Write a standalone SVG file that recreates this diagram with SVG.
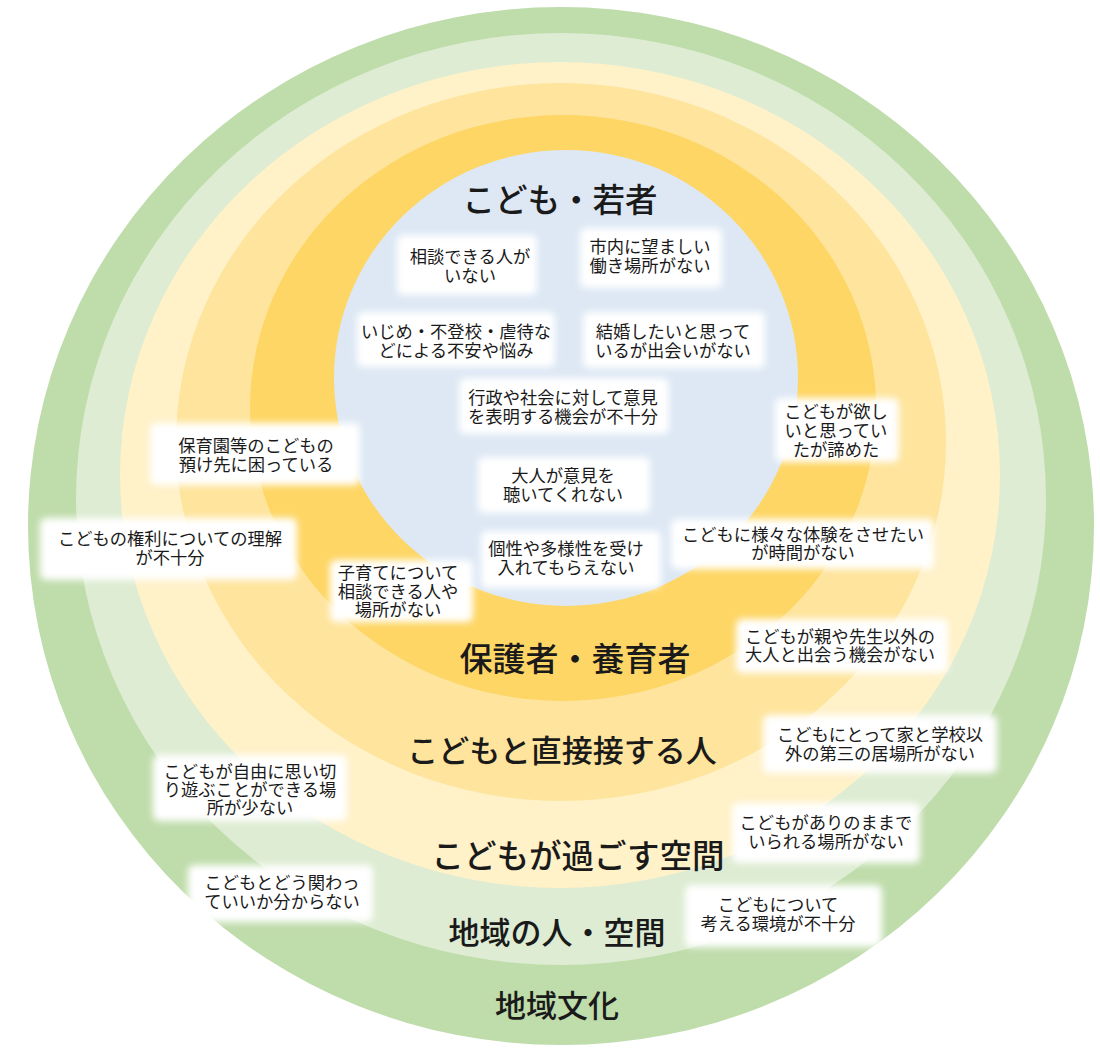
<svg xmlns="http://www.w3.org/2000/svg" width="1100" height="1048" viewBox="0 0 1100 1048">
<defs>
<filter id="soft" x="-20%" y="-30%" width="140%" height="160%"><feGaussianBlur stdDeviation="3.5"/></filter>
<style>
.t{font-family:"Liberation Sans","Noto Sans CJK JP",sans-serif;font-size:17.3px;fill:#1a1a1a;text-anchor:middle}
.h{font-family:"Noto Sans CJK JP","Noto Sans CJK SC",sans-serif;font-size:31px;font-weight:500;fill:#1a1a1a;text-anchor:middle;dominant-baseline:central}
.b{fill:#fff;filter:url(#soft)}
</style>
</defs>
<g id="rings">
<ellipse id="ring-bunka" cx="561" cy="526" rx="533" ry="519" fill="#bfdcab"/>
<ellipse id="ring-chiiki" cx="561" cy="499" rx="485" ry="466" fill="#ddecd2"/>
<ellipse id="ring-kukan" cx="560" cy="475" rx="440" ry="413" fill="#fff1c8"/>
<ellipse id="ring-sessuru" cx="561" cy="442" rx="385" ry="359" fill="#fee49c"/>
<ellipse id="ring-hogosha" cx="563" cy="408" rx="313" ry="293" fill="#fed665"/>
<ellipse id="ring-kodomo" cx="566" cy="378" rx="232" ry="228" fill="#dde8f4"/>
</g>
<g id="titles">
<text class="h" x="560" y="197" style="font-size:32.5px">こども・若者</text>
<text class="h" x="575" y="657" style="font-size:33px">保護者・養育者</text>
<text class="h" x="562" y="748">こどもと直接接する人</text>
<text class="h" x="578" y="853" style="font-size:32.5px">こどもが過ごす空間</text>
<text class="h" x="557" y="930">地域の人・空間</text>
<text class="h" x="557" y="1003">地域文化</text>
</g>
<g id="connectors"></g>
<g id="bA"><rect class="b" x="397" y="235" width="140" height="60" rx="6"/><text class="t"><tspan x="470" y="263">相談できる人が</tspan><tspan x="470" y="282">いない</tspan></text></g>
<g id="bB"><rect class="b" x="580" y="228" width="142" height="60" rx="6"/><text class="t"><tspan x="650" y="253">市内に望ましい</tspan><tspan x="650" y="272">働き場所がない</tspan></text></g>
<g id="bC"><rect class="b" x="357" y="312" width="198" height="55" rx="6"/><text class="t"><tspan x="456" y="338">いじめ・不登校・虐待な</tspan><tspan x="456" y="357">どによる不安や悩み</tspan></text></g>
<g id="bD"><rect class="b" x="583" y="312" width="182" height="56" rx="6"/><text class="t"><tspan x="673" y="338">結婚したいと思って</tspan><tspan x="673" y="357">いるが出会いがない</tspan></text></g>
<g id="bE"><rect class="b" x="459" y="378" width="210" height="56" rx="6"/><text class="t"><tspan x="563" y="404">行政や社会に対して意見</tspan><tspan x="563" y="423">を表明する機会が不十分</tspan></text></g>
<g id="bF"><rect class="b" x="775" y="398" width="124" height="64" rx="6"/><text class="t"><tspan x="836" y="418">こどもが欲し</tspan><tspan x="836" y="437">いと思ってい</tspan><tspan x="836" y="456">たが諦めた</tspan></text></g>
<g id="bG"><rect class="b" x="150" y="423" width="210" height="62" rx="6"/><text class="t"><tspan x="256" y="452">保育園等のこどもの</tspan><tspan x="256" y="471">預け先に困っている</tspan></text></g>
<g id="bH"><rect class="b" x="40" y="518" width="257" height="62" rx="6"/><text class="t"><tspan x="170" y="545">こどもの権利についての理解</tspan><tspan x="170" y="564">が不十分</tspan></text></g>
<g id="bI"><rect class="b" x="478" y="457" width="172" height="56" rx="6"/><text class="t"><tspan x="563" y="482">大人が意見を</tspan><tspan x="563" y="501">聴いてくれない</tspan></text></g>
<g id="bJ"><rect class="b" x="481" y="531" width="180" height="57" rx="6"/><text class="t"><tspan x="566" y="555">個性や多様性を受け</tspan><tspan x="566" y="574">入れてもらえない</tspan></text></g>
<g id="bK"><rect class="b" x="330" y="560" width="143" height="62" rx="6"/><text class="t"><tspan x="398" y="579">子育てについて</tspan><tspan x="398" y="598">相談できる人や</tspan><tspan x="398" y="616">場所がない</tspan></text></g>
<g id="bL"><rect class="b" x="671" y="519" width="263" height="50" rx="6"/><text class="t"><tspan x="803" y="541">こどもに様々な体験をさせたい</tspan><tspan x="803" y="559">が時間がない</tspan></text></g>
<g id="bM"><rect class="b" x="736" y="619" width="212" height="54" rx="6"/><text class="t"><tspan x="840" y="643">こどもが親や先生以外の</tspan><tspan x="840" y="661">大人と出会う機会がない</tspan></text></g>
<g id="bN"><rect class="b" x="763" y="715" width="234" height="58" rx="6"/><text class="t"><tspan x="880" y="741">こどもにとって家と学校以</tspan><tspan x="880" y="760">外の第三の居場所がない</tspan></text></g>
<g id="bO"><rect class="b" x="732" y="803" width="188" height="60" rx="6"/><text class="t"><tspan x="826" y="829">こどもがありのままで</tspan><tspan x="826" y="848">いられる場所がない</tspan></text></g>
<g id="bP"><rect class="b" x="685" y="885" width="197" height="62" rx="6"/><text class="t"><tspan x="778" y="911">こどもについて</tspan><tspan x="778" y="930">考える環境が不十分</tspan></text></g>
<g id="bQ"><rect class="b" x="153" y="755" width="194" height="66" rx="6"/><text class="t"><tspan x="250" y="778">こどもが自由に思い切</tspan><tspan x="250" y="796">り遊ぶことができる場</tspan><tspan x="250" y="814">所が少ない</tspan></text></g>
<g id="bR"><rect class="b" x="188" y="865" width="185" height="57" rx="6"/><text class="t"><tspan x="282" y="889">こどもとどう関わっ</tspan><tspan x="282" y="908">ていいか分からない</tspan></text></g>
</svg>
